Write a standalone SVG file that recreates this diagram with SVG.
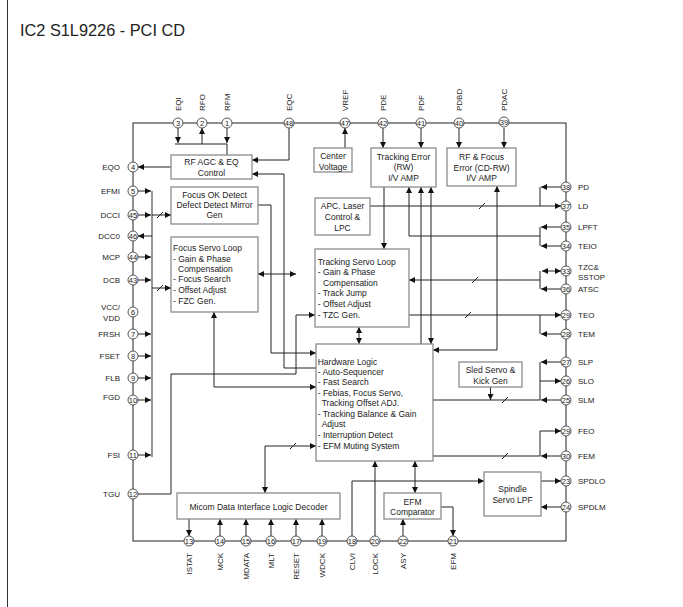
<svg xmlns="http://www.w3.org/2000/svg" width="683" height="607" viewBox="0 0 683 607">
<style>
text{font-family:"Liberation Sans",Arial,sans-serif;fill:#222}
.lbl{font-size:8px}
.bt{font-size:8.5px}
.c{text-anchor:middle}
.e{text-anchor:end}
.pn{font-size:7.5px;text-anchor:middle}
.box{fill:#fff;stroke:#8c8c8c;stroke-width:1.3}
.pin{fill:#fff;stroke:#444;stroke-width:0.9}
.w{fill:none;stroke:#222;stroke-width:1}
.bus{fill:none;stroke:#8c8c8c;stroke-width:1.8}
.a{marker-end:url(#ah)}
.aa{marker-end:url(#ah);marker-start:url(#ah)}
</style>
<defs>
<marker id="ah" viewBox="0 0 10 10" refX="10" refY="5" markerWidth="6" markerHeight="6" markerUnits="userSpaceOnUse" orient="auto-start-reverse"><path d="M0,0 L10,5 L0,10 z" fill="#111"/></marker>
</defs>
<rect width="683" height="607" fill="#fff"/>
<line x1="7.5" y1="0" x2="7.5" y2="607" stroke="#333" stroke-width="1"/>
<text x="20" y="36" style="font-size:17px" textLength="165" lengthAdjust="spacingAndGlyphs">IC2 S1L9226 - PCI CD</text>

<g id="chip"><rect x="133" y="123" width="433" height="418" fill="none" stroke="#222" stroke-width="1"/></g>

<g id="connectors">
<!-- top left pins -->
<path class="w a" d="M178,128 V143"/>
<path class="w a" d="M202,144 V128"/>
<path class="w a" d="M227,128 V143"/>
<path class="w" d="M175,144 H227 V155"/>
<path class="w a" d="M171,167 H138"/>
<path class="w a" d="M289,128 V160 H252"/>
<path class="w a" d="M316,368 H284 V174 H252"/>
<path class="w a" d="M258,205 H271 V353 H316"/>
<path class="w a" d="M345,148 V128"/>
<path class="w a" d="M383,128 V148"/>
<path class="w a" d="M421,128 V148"/>
<path class="w a" d="M459,128 V148"/>
<path class="w a" d="M504,128 V148"/>
<path class="w a" d="M384,187 V249"/>
<!-- laser -->
<path class="w a" d="M370,206 H561"/>
<path class="w a" d="M561,187 H541"/>
<path class="w" d="M540,187 V206"/>
<!-- LPFT / TEIO -->
<path class="w a" d="M561,227 H541"/>
<path class="w a" d="M561,246 H541"/>
<path class="w a" d="M540,227 V246 M540,236 H409 V187"/>
<path class="w a" d="M421,344 V187"/>
<path class="w aa" d="M431,187 V344"/>
<path class="w aa" d="M497,186 V350 H433"/>
<!-- TZC / ATSC -->
<path class="w aa" d="M542,271 H561"/>
<path class="w a" d="M561,289 H541"/>
<path class="w" d="M540,271 V289"/>
<path class="w a" d="M540,280 H409"/>
<!-- TEO / TEM -->
<path class="w a" d="M409,315 H561"/>
<path class="w a" d="M561,334 H541"/>
<path class="w" d="M540,315 V334"/>
<path class="w aa" d="M359,327 V344"/>
<path class="w aa" d="M258,274 H296"/>
<!-- TGU -->
<path class="w a" d="M138,494 H171 V374 H296 V315 H315"/>
<path class="w aa" d="M214,312 V387 H316"/>
<path class="w aa" d="M316,446 H265 V493"/>
<!-- bottom pins -->
<path class="w a" d="M189,519 V536"/>
<path class="w a" d="M220,536 V519"/>
<path class="w a" d="M246,536 V519"/>
<path class="w a" d="M271,536 V519"/>
<path class="w a" d="M296,536 V519"/>
<path class="w a" d="M322,536 V519"/>
<path class="w a" d="M352,536 V481 H484"/>
<path class="w a" d="M375,536 V461"/>
<path class="w a" d="M403,536 V519"/>
<path class="w a" d="M441,507 H453 V536"/>
<path class="w aa" d="M415,493 V461"/>
<path class="w a" d="M541,481 H561"/>
<path class="w a" d="M561,507 H541"/>
<!-- sled -->
<path class="w a" d="M490.5,387 V400"/>
<path class="w a" d="M561,362 H541"/>
<path class="w a" d="M540,381 H561"/>
<path class="w a" d="M561,400 H541"/>
<path class="w" d="M540,362 V400 H433"/>
<!-- FEO / FEM -->
<path class="w a" d="M540,431 H561"/>
<path class="w a" d="M561,456 H541"/>
<path class="w" d="M540,431 V456 H433"/>
<!-- left bus -->
<path class="bus" d="M152,191 V457"/>
<path class="w a" d="M138,191 H151"/>
<path class="w a" d="M138,215 H151"/>
<path class="w a" d="M152,215 H171"/>
<path class="w a" d="M152,236 H138"/>
<path class="w a" d="M138,257 H151"/>
<path class="w a" d="M138,280 H151"/>
<path class="w a" d="M152,288 H171"/>
<path class="w a" d="M138,334 H151"/>
<path class="w a" d="M138,356 H151"/>
<path class="w a" d="M138,378 H151"/>
<path class="w a" d="M138,400 H151"/>
<path class="w a" d="M138,455 H151"/>
<!-- slashes -->
<path class="w" d="M157,218 L163,212 M157,291 L163,285 M479,209 L485,203 M472,283 L478,277 M465,318 L471,312 M502,403 L508,397 M502,459 L508,453 M290,449 L296,443"/>
</g>

<g id="rfagc"><rect class="box" x="171" y="155" width="81" height="24"/><text class="bt c" x="211.5" y="164.7">RF AGC &amp; EQ</text><text class="bt c" x="211.5" y="175.7">Control</text></g>
<g id="focusok"><rect class="box" x="171" y="187" width="87" height="37"/><text class="bt c" x="214.5" y="198">Focus OK Detect</text><text class="bt c" x="214.5" y="208">Defect Detect Mirror</text><text class="bt c" x="214.5" y="218">Gen</text></g>
<g id="focusservo"><rect class="box" x="171" y="237" width="87" height="75"/>
<text class="bt" x="173" y="251.3">Focus Servo Loop</text><text class="bt" x="173" y="262">- Gain &amp; Phase</text><text class="bt" x="178" y="272.3">Compensation</text><text class="bt" x="173" y="282.3">- Focus Search</text><text class="bt" x="173" y="293">- Offset Adjust</text><text class="bt" x="173" y="303.7">- FZC Gen.</text></g>
<g id="centervoltage"><rect class="box" x="314" y="148" width="38" height="24"/><text class="bt c" x="333" y="159">Center</text><text class="bt c" x="333" y="170">Voltage</text></g>
<g id="trackingerror"><rect class="box" x="371" y="148" width="65" height="39"/><text class="bt c" x="403.5" y="159.7">Tracking Error</text><text class="bt c" x="403.5" y="170.3">(RW)</text><text class="bt c" x="403.5" y="181.3">I/V AMP</text></g>
<g id="rffocus"><rect class="box" x="447" y="148" width="69" height="38"/><text class="bt c" x="481.5" y="160.3">RF &amp; Focus</text><text class="bt c" x="481.5" y="171.3">Error (CD-RW)</text><text class="bt c" x="481.5" y="181.3">I/V AMP</text></g>
<g id="apc"><rect class="box" x="315" y="198" width="55" height="37"/><text class="bt c" x="342.5" y="209">APC. Laser</text><text class="bt c" x="342.5" y="220.3">Control &amp;</text><text class="bt c" x="342.5" y="231.3">LPC</text></g>
<g id="trackingservo"><rect class="box" x="315" y="249" width="94" height="78"/>
<text class="bt" x="317.7" y="265.3">Tracking Servo Loop</text><text class="bt" x="317.7" y="275.3">- Gain &amp; Phase</text><text class="bt" x="323" y="285.7">Compensation</text><text class="bt" x="317.7" y="296.3">- Track Jump</text><text class="bt" x="317.7" y="307">- Offset Adjust</text><text class="bt" x="317.7" y="318">- TZC Gen.</text></g>
<g id="hardwarelogic"><rect class="box" x="316" y="344" width="117" height="117"/>
<text class="bt" x="317.7" y="364.7">Hardware Logic</text><text class="bt" x="317.7" y="374.7">- Auto-Sequencer</text><text class="bt" x="317.7" y="384.7">- Fast Search</text><text class="bt" x="317.7" y="395.7">- Febias, Focus Servo,</text><text class="bt" x="321.7" y="405.7">Tracking Offset ADJ.</text><text class="bt" x="317.7" y="417">- Tracking Balance &amp; Gain</text><text class="bt" x="321.7" y="427.3">Adjust</text><text class="bt" x="317.7" y="438">- Interruption Detect</text><text class="bt" x="317.7" y="449">- EFM Muting System</text></g>
<g id="sled"><rect class="box" x="459" y="362" width="63" height="25"/><text class="bt c" x="490.5" y="373">Sled Servo &amp;</text><text class="bt c" x="490.5" y="383.7">Kick Gen</text></g>
<g id="micom"><rect class="box" x="177" y="493" width="163" height="26"/><text class="bt c" x="258.5" y="509.7">Micom Data Interface Logic Decoder</text></g>
<g id="efmcomp"><rect class="box" x="384" y="493" width="57" height="26"/><text class="bt c" x="412.5" y="504.7">EFM</text><text class="bt c" x="412.5" y="514.7">Comparator</text></g>
<g id="spindle"><rect class="box" x="484" y="472" width="57" height="44"/><text class="bt c" x="512.5" y="492.3">Spindle</text><text class="bt c" x="512.5" y="503">Servo LPF</text></g>

<g id="pins">
<!-- top -->
<circle class="pin" cx="178" cy="123" r="5"/><text class="pn" x="178" y="125.7">3</text>
<circle class="pin" cx="202" cy="123" r="5"/><text class="pn" x="202" y="125.7">2</text>
<circle class="pin" cx="227" cy="123" r="5"/><text class="pn" x="227" y="125.7">1</text>
<circle class="pin" cx="289" cy="123" r="5"/><text class="pn" x="289" y="125.7">48</text>
<circle class="pin" cx="345" cy="123" r="5"/><text class="pn" x="345" y="125.7">47</text>
<circle class="pin" cx="383" cy="123" r="5"/><text class="pn" x="383" y="125.7">42</text>
<circle class="pin" cx="421" cy="123" r="5"/><text class="pn" x="421" y="125.7">41</text>
<circle class="pin" cx="459" cy="123" r="5"/><text class="pn" x="459" y="125.7">40</text>
<circle class="pin" cx="504" cy="122" r="5"/><text class="pn" x="504" y="124.7">39</text>
<g class="lbl">
<text transform="translate(181,111) rotate(-90)">EQI</text>
<text transform="translate(205,111) rotate(-90)">RFO</text>
<text transform="translate(230,111) rotate(-90)">RFM</text>
<text transform="translate(292,111) rotate(-90)">EQC</text>
<text transform="translate(348,111) rotate(-90)">VREF</text>
<text transform="translate(386,111) rotate(-90)">PDE</text>
<text transform="translate(424,111) rotate(-90)">PDF</text>
<text transform="translate(462,111) rotate(-90)">PDBD</text>
<text transform="translate(507,111) rotate(-90)">PDAC</text>
</g>
<!-- left -->
<circle class="pin" cx="133" cy="167" r="5"/><text class="pn" x="133" y="169.7">4</text>
<circle class="pin" cx="133" cy="191" r="5"/><text class="pn" x="133" y="193.7">5</text>
<circle class="pin" cx="133" cy="215" r="5"/><text class="pn" x="133" y="217.7">45</text>
<circle class="pin" cx="133" cy="236" r="5"/><text class="pn" x="133" y="238.7">46</text>
<circle class="pin" cx="133" cy="257" r="5"/><text class="pn" x="133" y="259.7">44</text>
<circle class="pin" cx="133" cy="280" r="5"/><text class="pn" x="133" y="282.7">43</text>
<circle class="pin" cx="133" cy="312" r="5"/><text class="pn" x="133" y="314.7">6</text>
<circle class="pin" cx="133" cy="334" r="5"/><text class="pn" x="133" y="336.7">7</text>
<circle class="pin" cx="133" cy="356" r="5"/><text class="pn" x="133" y="358.7">8</text>
<circle class="pin" cx="133" cy="378" r="5"/><text class="pn" x="133" y="380.7">9</text>
<circle class="pin" cx="133" cy="400" r="5"/><text class="pn" x="133" y="402.7">10</text>
<circle class="pin" cx="133" cy="455" r="5"/><text class="pn" x="133" y="457.7">11</text>
<circle class="pin" cx="133" cy="494" r="5"/><text class="pn" x="133" y="496.7">12</text>
<g class="lbl e">
<text x="120" y="170">EQO</text>
<text x="120" y="194">EFMI</text>
<text x="120" y="218">DCCI</text>
<text x="120" y="239">DCC0</text>
<text x="120" y="260">MCP</text>
<text x="120" y="283">DCB</text>
<text x="120" y="309.5">VCC/</text>
<text x="120" y="320.5">VDD</text>
<text x="120" y="337">FRSH</text>
<text x="120" y="359">FSET</text>
<text x="120" y="381">FLB</text>
<text x="120" y="399.5">FGD</text>
<text x="120" y="458">FSI</text>
<text x="120" y="497">TGU</text>
</g>
<!-- right -->
<circle class="pin" cx="566" cy="187" r="5"/><text class="pn" x="566" y="189.7">38</text>
<circle class="pin" cx="566" cy="206" r="5"/><text class="pn" x="566" y="208.7">37</text>
<circle class="pin" cx="566" cy="227" r="5"/><text class="pn" x="566" y="229.7">35</text>
<circle class="pin" cx="566" cy="246" r="5"/><text class="pn" x="566" y="248.7">34</text>
<circle class="pin" cx="566" cy="271" r="5"/><text class="pn" x="566" y="273.7">33</text>
<circle class="pin" cx="566" cy="289" r="5"/><text class="pn" x="566" y="291.7">36</text>
<circle class="pin" cx="566" cy="315" r="5"/><text class="pn" x="566" y="317.7">29</text>
<circle class="pin" cx="566" cy="334" r="5"/><text class="pn" x="566" y="336.7">28</text>
<circle class="pin" cx="566" cy="362" r="5"/><text class="pn" x="566" y="364.7">27</text>
<circle class="pin" cx="566" cy="381" r="5"/><text class="pn" x="566" y="383.7">26</text>
<circle class="pin" cx="566" cy="400" r="5"/><text class="pn" x="566" y="402.7">25</text>
<circle class="pin" cx="566" cy="431" r="5"/><text class="pn" x="566" y="433.7">29</text>
<circle class="pin" cx="566" cy="456" r="5"/><text class="pn" x="566" y="458.7">30</text>
<circle class="pin" cx="566" cy="481" r="5"/><text class="pn" x="566" y="483.7">23</text>
<circle class="pin" cx="566" cy="507" r="5"/><text class="pn" x="566" y="509.7">24</text>
<g class="lbl">
<text x="578" y="190">PD</text>
<text x="578" y="209">LD</text>
<text x="578" y="230">LPFT</text>
<text x="578" y="249">TEIO</text>
<text x="578" y="269.5">TZC&amp;</text>
<text x="578" y="279.5">SSTOP</text>
<text x="578" y="292">ATSC</text>
<text x="578" y="318">TEO</text>
<text x="578" y="337">TEM</text>
<text x="578" y="365">SLP</text>
<text x="578" y="384">SLO</text>
<text x="578" y="403">SLM</text>
<text x="578" y="434">FEO</text>
<text x="578" y="459">FEM</text>
<text x="578" y="484">SPDLO</text>
<text x="578" y="510">SPDLM</text>
</g>
<!-- bottom -->
<circle class="pin" cx="189" cy="541" r="5"/><text class="pn" x="189" y="543.7">13</text>
<circle class="pin" cx="220" cy="541" r="5"/><text class="pn" x="220" y="543.7">14</text>
<circle class="pin" cx="246" cy="541" r="5"/><text class="pn" x="246" y="543.7">15</text>
<circle class="pin" cx="271" cy="541" r="5"/><text class="pn" x="271" y="543.7">16</text>
<circle class="pin" cx="296" cy="541" r="5"/><text class="pn" x="296" y="543.7">17</text>
<circle class="pin" cx="322" cy="541" r="5"/><text class="pn" x="322" y="543.7">19</text>
<circle class="pin" cx="352" cy="541" r="5"/><text class="pn" x="352" y="543.7">18</text>
<circle class="pin" cx="375" cy="541" r="5"/><text class="pn" x="375" y="543.7">20</text>
<circle class="pin" cx="403" cy="541" r="5"/><text class="pn" x="403" y="543.7">22</text>
<circle class="pin" cx="453" cy="541" r="5"/><text class="pn" x="453" y="543.7">21</text>
<g class="lbl e">
<text transform="translate(192,553) rotate(-90)">ISTAT</text>
<text transform="translate(223,553) rotate(-90)">MCK</text>
<text transform="translate(249,553) rotate(-90)">MDATA</text>
<text transform="translate(274,553) rotate(-90)">MLT</text>
<text transform="translate(299,553) rotate(-90)">RESET</text>
<text transform="translate(325,553) rotate(-90)">WDCK</text>
<text transform="translate(355,553) rotate(-90)">CLVI</text>
<text transform="translate(378,553) rotate(-90)">LOCK</text>
<text transform="translate(406,553) rotate(-90)">ASY</text>
<text transform="translate(456,553) rotate(-90)">EFM</text>
</g>
</g>
</svg>
